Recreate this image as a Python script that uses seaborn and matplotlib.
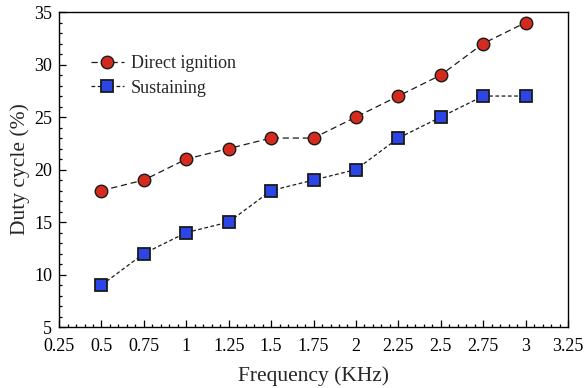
import matplotlib
matplotlib.use("Agg")
import matplotlib.pyplot as plt
import seaborn as sns
import pandas as pd
from matplotlib.ticker import MultipleLocator, AutoMinorLocator, FuncFormatter

frequency = [0.5, 0.75, 1.0, 1.25, 1.5, 1.75, 2.0, 2.25, 2.5, 2.75, 3.0]
direct_ignition = [18, 19, 21, 22, 23, 23, 25, 27, 29, 32, 34]
sustaining = [9, 12, 14, 15, 18, 19, 20, 23, 25, 27, 27]

sns.set_theme(style="ticks")
plt.rcParams['font.family'] = 'serif'
plt.rcParams['font.serif'] = ['Liberation Serif', 'Times New Roman', 'DejaVu Serif']
plt.rcParams['mathtext.fontset'] = 'stix'

fig = plt.figure(figsize=(5.85, 3.88), dpi=100)
ax = fig.add_axes([0.101, 0.157, 0.870, 0.812])

df1 = pd.DataFrame({"x": frequency, "y": direct_ignition})
df2 = pd.DataFrame({"x": frequency, "y": sustaining})

sns.lineplot(data=df1, x="x", y="y", ax=ax, color="#1a1a1a", linewidth=0.9,
             linestyle=(0, (5, 3)), marker="o", markersize=9,
             markerfacecolor="#d52b1e", markeredgecolor="#1a1a1a",
             markeredgewidth=1.0, label="Direct ignition")
sns.lineplot(data=df2, x="x", y="y", ax=ax, color="#1a1a1a", linewidth=0.9,
             linestyle=(0, (3, 2)), marker="s", markersize=8,
             markerfacecolor="#2b45e6", markeredgecolor="#1a1a1a",
             markeredgewidth=1.3, label="Sustaining")

ax.set_xlim(0.25, 3.25)
ax.set_ylim(5, 35)
ax.xaxis.set_major_locator(MultipleLocator(0.25))
ax.xaxis.set_minor_locator(AutoMinorLocator(5))
ax.yaxis.set_major_locator(MultipleLocator(5))
ax.yaxis.set_minor_locator(AutoMinorLocator(5))
ax.xaxis.set_major_formatter(FuncFormatter(lambda v, p: f"{v:g}"))

ax.tick_params(which="both", direction="in", top=False, right=False,
               labelsize=13, colors="black", width=0.9)
ax.tick_params(which="major", length=5)
ax.tick_params(which="minor", length=2.5)
ax.tick_params(axis="x", which="major", pad=8)
ax.tick_params(axis="y", which="major", pad=5)
for s in ax.spines.values():
    s.set_linewidth(1.0)
    s.set_color("black")
    s.set_visible(True)

ax.set_xlabel("Frequency (KHz)", fontsize=15.5, labelpad=8)
ax.set_ylabel("Duty cycle (%)", fontsize=15.5, labelpad=3)

leg = ax.legend(loc="upper left", bbox_to_anchor=(0.03, 0.915), frameon=False,
                fontsize=13, handlelength=1.85, handletextpad=0.4,
                labelspacing=0.42)

fig.savefig("out.png", dpi=100)
